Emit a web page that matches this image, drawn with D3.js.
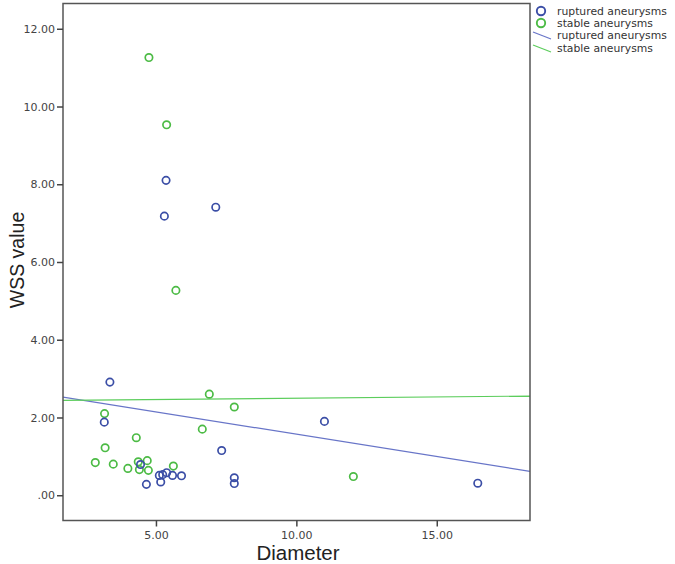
<!DOCTYPE html>
<html><head><meta charset="utf-8">
<script src="https://cdn.jsdelivr.net/npm/d3@7"></script>
<style>body{margin:0;background:#fff;} svg{display:block;}</style>
</head><body>
<svg id="c" width="675" height="564"></svg>
<script>
// Data
const rupturedDiameter = [5.36, 5.30, 7.13, 3.36, 3.16, 7.34, 11.00, 7.79, 7.79, 16.46, 4.66, 5.12, 5.17, 5.24, 5.38, 5.59, 5.91, 4.45];
const rupturedWSS      = [8.10, 7.18, 7.41, 2.91, 1.88, 1.15, 1.90, 0.45, 0.30, 0.31, 0.28, 0.51, 0.34, 0.53, 0.58, 0.51, 0.50, 0.79];
const stableDiameter = [4.75, 5.38, 5.71, 6.90, 7.79, 6.65, 12.03, 3.17, 3.19, 4.30, 2.84, 3.48, 4.00, 4.37, 4.41, 4.69, 4.73, 5.62];
const stableWSS      = [11.26, 9.53, 5.27, 2.60, 2.27, 1.70, 0.48, 2.10, 1.22, 1.48, 0.84, 0.80, 0.69, 0.86, 0.66, 0.89, 0.64, 0.75];
// Fit lines: [intercept, slope]
const rupturedFit = [2.72, -0.115];
const stableFit = [2.43, 0.0066];
const xTicks = [5, 10, 15];
const yTicks = [0, 2, 4, 6, 8, 10, 12];
const legendLabels = ["ruptured aneurysms", "stable aneurysms", "ruptured aneurysms", "stable aneurysms"];

const blue = "#3b4ea6", green = "#4cbb45";
const blueLine = "#6875c8", greenLine = "#5ccd5c";

const L = 63, R = 530, T = 3.5, B = 520.5;
const x = d3.scaleLinear().domain([1.69, 18.32]).range([L, R]);
const y = d3.scaleLinear().domain([-0.65, 12.65]).range([B, T]);
const svg = d3.select("#c");

const fmt = v => v === 0 ? ".00" : v.toFixed(2);

svg.append("defs").append("clipPath").attr("id","clip")
  .append("rect").attr("x",L).attr("y",T).attr("width",R-L).attr("height",B-T);

// fit lines
const fitG = svg.append("g").attr("clip-path","url(#clip)");
[[rupturedFit, blueLine],[stableFit, greenLine]].forEach(([f,c])=>{
  const d0 = x.domain()[0], d1 = x.domain()[1];
  fitG.append("line")
    .attr("x1", x(d0)).attr("y1", y(f[0]+f[1]*d0))
    .attr("x2", x(d1)).attr("y2", y(f[0]+f[1]*d1))
    .attr("stroke", c).attr("stroke-width", 1.2);
});

// points
const pts = svg.append("g");
const addPts = (xs, ys, c) => xs.forEach((d,i)=>{
  pts.append("circle").attr("cx", x(d)).attr("cy", y(ys[i])).attr("r", 3.7)
    .attr("fill","none").attr("stroke", c).attr("stroke-width", 1.7);
});
addPts(stableDiameter, stableWSS, green);
addPts(rupturedDiameter, rupturedWSS, blue);

// frame
svg.append("rect").attr("x",L).attr("y",T).attr("width",R-L).attr("height",B-T)
  .attr("fill","none").attr("stroke","#555").attr("stroke-width",1.5);

// axes
const yAxis = d3.axisLeft(y).tickValues(yTicks).tickFormat(fmt).tickSize(6).tickPadding(2);
const gy = svg.append("g").attr("transform",`translate(${L},0)`).call(yAxis);
const xAxis = d3.axisBottom(x).tickValues(xTicks).tickFormat(fmt).tickSize(6).tickPadding(5);
const gx = svg.append("g").attr("transform",`translate(0,${B})`).call(xAxis);
[gy, gx].forEach(g=>{
  g.select(".domain").remove();
  g.selectAll(".tick line").attr("stroke","#444").attr("stroke-width",1.5);
  g.selectAll(".tick text").attr("fill","#444").style("font-family","'DejaVu Sans', sans-serif").style("font-size","11px");
});

// titles
svg.append("text").attr("x", 298).attr("y", 560).attr("text-anchor","middle")
  .style("font-family","'Liberation Sans', Arial, sans-serif").style("font-size","20.5px").attr("fill","#222").text("Diameter");
svg.append("text").attr("transform","translate(24,260) rotate(-90)").attr("text-anchor","middle")
  .style("font-family","'Liberation Sans', Arial, sans-serif").style("font-size","19.5px").attr("fill","#222").text("WSS value");

// legend
const lg = svg.append("g");
const rowsY = [11, 23, 35, 48];
lg.append("circle").attr("cx",541).attr("cy",rowsY[0]).attr("r",4.2).attr("fill","none").attr("stroke",blue).attr("stroke-width",1.9);
lg.append("circle").attr("cx",541).attr("cy",rowsY[1]).attr("r",4.2).attr("fill","none").attr("stroke",green).attr("stroke-width",1.9);
lg.append("line").attr("x1",533).attr("y1",rowsY[2]-3).attr("x2",551).attr("y2",rowsY[2]+4).attr("stroke",blueLine).attr("stroke-width",1.2);
lg.append("line").attr("x1",533).attr("y1",rowsY[3]-3).attr("x2",551).attr("y2",rowsY[3]+4).attr("stroke",greenLine).attr("stroke-width",1.2);
legendLabels.forEach((t,i)=>{
  lg.append("text").attr("x",557).attr("y",rowsY[i]+4)
    .style("font-family","'DejaVu Sans', sans-serif").style("font-size","10.8px").attr("fill","#333").text(t);
});
</script>
</body></html>
